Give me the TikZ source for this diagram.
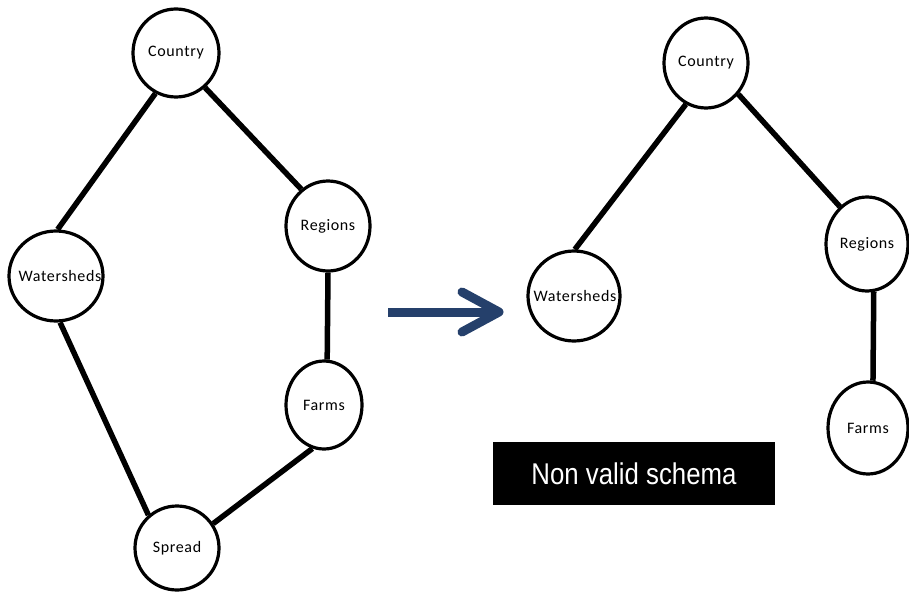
\documentclass[tikz,border=0pt]{standalone}
\usepackage{fontspec}
\setmainfont{Carlito}
\newfontfamily\boxfont{Liberation Sans}
\usetikzlibrary{shapes.geometric,calc}
\definecolor{arrowblue}{HTML}{25406B}
\tikzset{
  vnode/.style={ellipse, draw=black, line width=3.2pt, fill=white, inner sep=0pt,
    font=\fontsize{16}{18}\selectfont},
  edge/.style={line width=5.5pt},
  bigarrow/.style={arrowblue, line width=9pt},
}
\newcommand{\lbl}[1]{\makebox[0pt]{\addfontfeatures{LetterSpace=4}#1}}
\begin{document}
\begin{tikzpicture}[x=1pt,y=-1pt]
\useasboundingbox (0,0) rectangle (909,599);
% left graph
\node[vnode, minimum width=86pt, minimum height=88pt] (c1) at (176,53) {\lbl{Country}};
\node[vnode, minimum width=94pt, minimum height=90pt] (w1) at (56,276) {\lbl{\hspace*{8pt}Watersheds}};
\node[vnode, minimum width=84pt, minimum height=90pt] (r1) at (328,226) {\lbl{Regions}};
\node[vnode, minimum width=76pt, minimum height=88pt] (f1) at (324,405) {\lbl{Farms}};
\node[vnode, minimum width=84pt, minimum height=84pt] (s1) at (177,548) {\lbl{Spread}};
\draw[edge] (c1.243) -- (w1.88);
\draw[edge] (c1.310) -- (r1.126);
\draw[edge] (r1.270) -- (f1.86);
\draw[edge] (w1.275) -- (s1.131);
\draw[edge] (f1.255) -- (s1.34);
% right graph
\node[vnode, minimum width=84pt, minimum height=90pt] (c2) at (706,63) {\lbl{Country}};
\node[vnode, minimum width=92pt, minimum height=90pt] (w2) at (574,296) {\lbl{\hspace*{2pt}Watersheds}};
\node[vnode, minimum width=82pt, minimum height=94pt] (r2) at (867,244) {\lbl{Regions}};
\node[vnode, minimum width=80pt, minimum height=92pt] (f2) at (868,428) {\lbl{Farms}};
\draw[edge] (c2.244) -- (w2.89);
\draw[edge] (c2.316) -- (r2.126);
\draw[edge] (r2.278) -- (f2.84);
% arrow
\coordinate (as) at (388,312);
\coordinate (at) at (499,312);
\draw[bigarrow] (as) -- ($(at)+(-6,0)$);
\draw[bigarrow, line cap=round, line join=round] ($(at)+(-37,-20)$) -- (at) -- ($(at)+(-37,20)$);
% box
\node[fill=black, minimum width=282pt, minimum height=63pt, inner sep=0pt,
  text=white, font=\boxfont\fontsize{30}{32}\selectfont] (nv) at (634,473.5)
  {\scalebox{0.86}[1]{Non valid schema}};
\end{tikzpicture}
\end{document}
